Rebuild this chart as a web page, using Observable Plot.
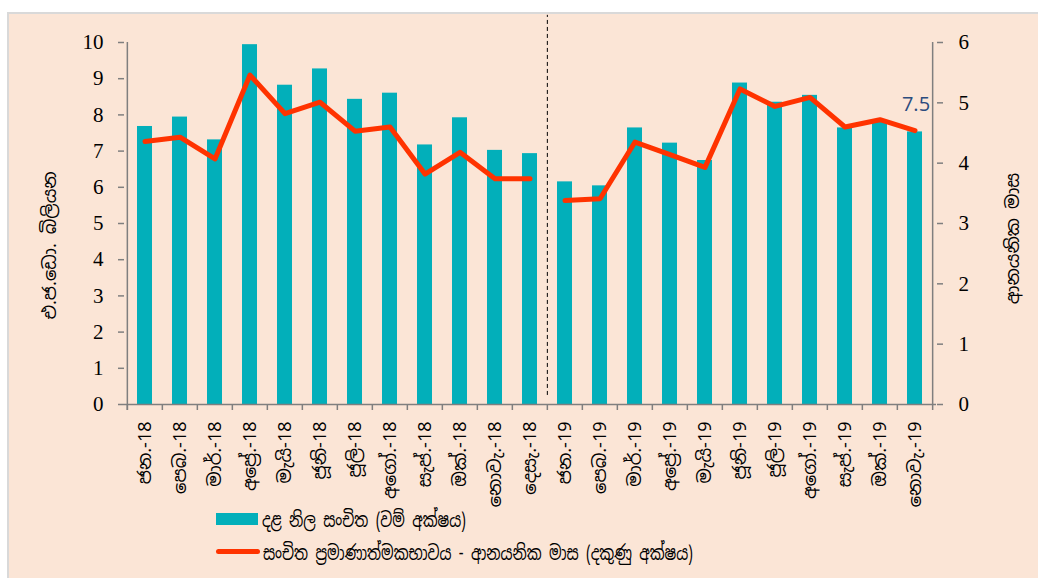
<!DOCTYPE html>
<html>
<head>
<meta charset="utf-8">
<script src="https://cdn.jsdelivr.net/npm/d3@7"></script>
<script src="https://cdn.jsdelivr.net/npm/@observablehq/plot@0.6"></script>
<style>
  html, body { margin: 0; padding: 0; background: #ffffff; width: 1038px; height: 578px; overflow: hidden; }
  #panel { position: absolute; left: 7px; top: 12px; width: 1031px; height: 566px; background: #FBE5D6;
           border-left: 2px solid #D9D9D9; border-top: 2px solid #D9D9D9; box-sizing: border-box; }
  #chart { position: absolute; left: 0; top: 0; }
  .leg { position: absolute; font-family: "Noto Sans Sinhala", "Iskoola Pota", "Liberation Serif", serif; font-size: 20px; color: #000; white-space: nowrap;
         transform: scaleX(0.738); transform-origin: left center; }
</style>
</head>
<body>
<div id="panel">
  <div id="chart"></div>
</div>
<div style="position:absolute;left:216px;top:513px;width:42px;height:12px;background:#02AFBA;"></div>
<div class="leg" style="left:262px;top:507px;">දළ නිල සංචිත (වම් අක්ෂය)</div>
<div style="position:absolute;left:216px;top:549px;width:44px;height:5px;border-radius:3px;background:#FF3300;"></div>
<div class="leg" style="left:263px;top:540px;">සංචිත ප්‍රමාණාත්මකභාවය - ආනයනික මාස (දකුණු අක්ෂය)</div>
<script>
// ---- data ----
const months18 = ["ජන.-18","පෙබ.-18","මාර්.-18","අප්‍රේ.-18","මැයි-18","ජූනි-18","ජූලි-18","අගෝ.-18","සැප්.-18","ඔක්.-18","නොවැ.-18","දෙසැ.-18"];
const months19 = ["ජන.-19","පෙබ.-19","මාර්.-19","අප්‍රේ.-19","මැයි-19","ජූනි-19","ජූලි-19","අගෝ.-19","සැප්.-19","ඔක්.-19","නොවැ.-19"];
const reserves18 = [7.68, 7.94, 7.31, 9.94, 8.82, 9.27, 8.43, 8.60, 7.17, 7.92, 7.02, 6.93];
const reserves19 = [6.15, 6.04, 7.64, 7.22, 6.74, 8.88, 8.35, 8.54, 7.64, 7.80, 7.53];
const importMonths18 = [4.36, 4.43, 4.07, 5.46, 4.82, 5.01, 4.53, 4.60, 3.82, 4.18, 3.74, 3.74];
const importMonths19 = [3.38, 3.41, 4.35, 4.14, 3.93, 5.23, 4.94, 5.09, 4.60, 4.72, 4.54];
const leftTicks = [0,1,2,3,4,5,6,7,8,9,10];
const rightTicks = [0,1,2,3,4,5,6];
const leftTitle = "එ.ජ.ඩො. බිලියන";
const rightTitle = "ආනයනික මාස";
const lastLabel = "7.5";

// ---- build table ----
const months = [...months18, ...months19];
const rows = [
  ...months18.map((m, i) => ({month: m, year: "2018", reserves: reserves18[i], imp: importMonths18[i]})),
  ...months19.map((m, i) => ({month: m, year: "2019", reserves: reserves19[i], imp: importMonths19[i]}))
];
const RIGHT_MAX = 6, LEFT_MAX = 10, k = LEFT_MAX / RIGHT_MAX;

const W = 1029, H = 490, ML = 115, MR = 102, MT = 28, MB = 100;
const step = (W - ML - MR) / months.length;
const tickLen = 6 / ((H - MT - MB) / LEFT_MAX);

const sinhala = '"Noto Sans Sinhala", "Iskoola Pota", "Liberation Serif", serif';
const serifNum = '"Liberation Serif", "DejaVu Serif", serif';
const axisColor = "#7F7F7F";

const chart = Plot.plot({
  width: W, height: H,
  marginLeft: ML, marginRight: MR, marginTop: MT, marginBottom: MB,
  style: {background: "transparent", color: "#000", overflow: "visible"},
  x: {type: "band", domain: months, paddingInner: 0.57, paddingOuter: 0.285},
  y: {domain: [0, LEFT_MAX]},
  marks: [
    Plot.barY(rows, {x: "month", y: "reserves", fill: "#02AFBA"}),
    // dashed separator between years
    Plot.ruleX([months19[0]], {y1: 0.25, y2: 10.75, dx: -step / 2, stroke: "#000", strokeWidth: 1, strokeDasharray: "4,3"}),
    Plot.lineY(rows, {x: "month", y: d => d.imp * k, z: "year", stroke: "#FF3300", strokeWidth: 5, strokeLinecap: "round", strokeLinejoin: "round"}),
    // axis lines
    Plot.ruleY([0], {stroke: axisColor, strokeWidth: 1.5}),
    Plot.ruleX([months[0]], {y1: -tickLen, y2: LEFT_MAX, dx: -step / 2, stroke: axisColor, strokeWidth: 1.5}),
    Plot.ruleX([months[months.length - 1]], {y1: -tickLen, y2: LEFT_MAX, dx: step / 2, stroke: axisColor, strokeWidth: 1.5}),
    // x tick marks at category boundaries
    Plot.ruleX(months, {y1: 0, y2: -tickLen, dx: -step / 2, stroke: axisColor, strokeWidth: 1.5}),
    Plot.axisX({tickSize: 0, tickPadding: 17, tickRotate: -90, fontSize: 18, fontFamily: sinhala, label: null}),
    Plot.axisY(leftTicks, {anchor: "left", tickSize: 6, tickPadding: 15, fontSize: 21, fontFamily: serifNum, stroke: axisColor, strokeWidth: 1.5, label: null}),
    Plot.axisY(rightTicks.map(v => v * k), {anchor: "right", tickSize: 6, tickPadding: 16, fontSize: 21, fontFamily: serifNum, stroke: axisColor, strokeWidth: 1.5, tickFormat: d => String(Math.round(d / k)), label: null}),
    // axis titles
    Plot.text([leftTitle], {frameAnchor: "left", textAnchor: "middle", rotate: -90, dx: -74, dy: 22, fontSize: 18, fontFamily: sinhala, fill: "#000"}),
    Plot.text([rightTitle], {frameAnchor: "right", textAnchor: "middle", rotate: -90, dx: 77, dy: 15, fontSize: 18, fontFamily: sinhala, fill: "#000"}),
    // last value label
    Plot.text([rows[rows.length - 1]], {x: "month", y: "reserves", text: () => lastLabel, dy: -27, dx: 1, fontSize: 20, fontFamily: '"Open Sans", "Liberation Sans", sans-serif', fill: "#2B4C7E"})
  ]
});
document.getElementById("chart").appendChild(chart);
</script>
</body>
</html>
